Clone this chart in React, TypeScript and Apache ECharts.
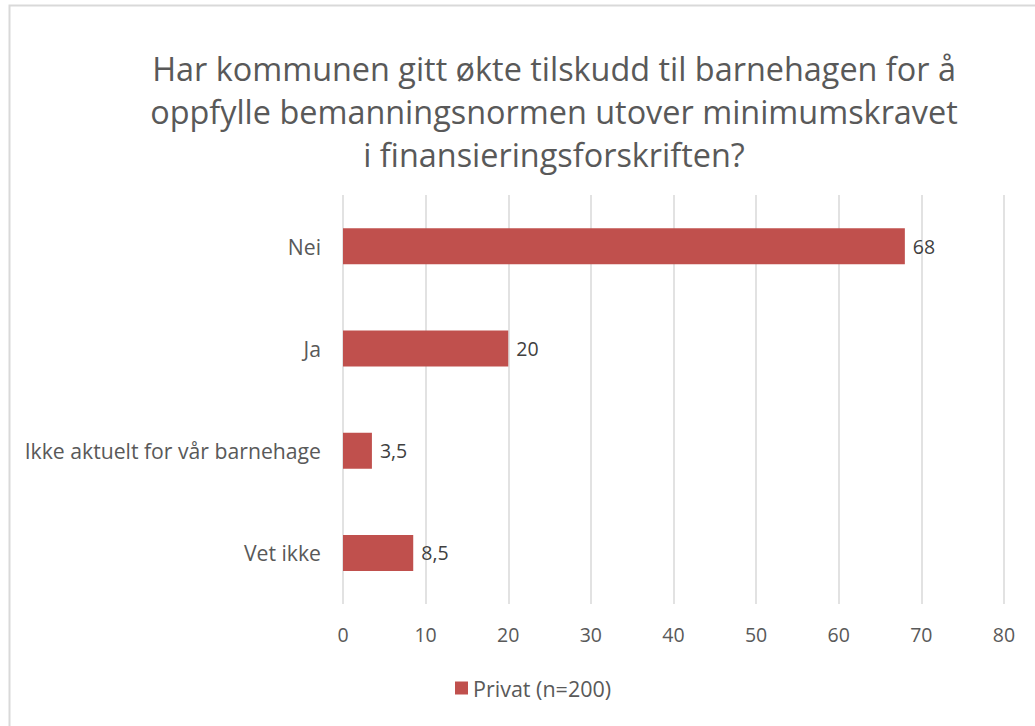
import React, { useEffect, useRef } from "react";
import * as echarts from "echarts";

const categories = ["Nei", "Ja", "Ikke aktuelt for vår barnehage", "Vet ikke"];
const values = [68, 20, 3.5, 8.5];
const seriesName = "Privat (n=200)";
const titleText =
  "Har kommunen gitt økte tilskudd til barnehagen for å\noppfylle bemanningsnormen utover minimumskravet\ni finansieringsforskriften?";

const FONT = "'Open Sans', 'Liberation Sans', sans-serif";
const TEXT = "#595959";

export default function App() {
  const ref = useRef<HTMLDivElement>(null);
  useEffect(() => {
    document.body.style.margin = "0";
    const chart = echarts.init(ref.current!, null, { renderer: "svg" });
    chart.setOption({
      animation: false,
      backgroundColor: "#ffffff",
      textStyle: { fontFamily: FONT },
      title: {
        text: titleText,
        left: 549,
        top: 41,
        textAlign: "center",
        textStyle: {
          fontFamily: FONT,
          fontSize: 32.4,
          fontWeight: "normal",
          color: TEXT,
          lineHeight: 43,
          align: "center",
        },
      },
      graphic: [
        {
          type: "polyline",
          shape: { points: [[9.5, 800], [9.5, 5.5], [1100, 5.5]] },
          style: { stroke: "#d9d9d9", lineWidth: 2, fill: "none" },
        },
      ],
      legend: {
        bottom: 22,
        left: 450,
        itemWidth: 13,
        itemHeight: 13,
        itemGap: 5,
        icon: "rect",
        textStyle: { fontFamily: FONT, fontSize: 21.5, color: TEXT },
        data: [seriesName],
      },
      grid: { left: 343, right: 31, top: 195, bottom: 122, containLabel: false },
      xAxis: {
        type: "value",
        min: 0,
        max: 80,
        interval: 10,
        axisLine: { show: false },
        axisTick: { show: false },
        splitLine: { lineStyle: { color: "#d9d9d9", width: 1.5 } },
        axisLabel: { fontFamily: FONT, fontSize: 19.5, color: TEXT, margin: 20 },
      },
      yAxis: {
        type: "category",
        inverse: true,
        data: categories,
        axisLine: { show: false },
        axisTick: { show: false },
        axisLabel: { fontFamily: FONT, fontSize: 21.2, color: TEXT, margin: 22 },
      },
      series: [
        {
          name: seriesName,
          type: "bar",
          data: values,
          barWidth: 36,
          itemStyle: { color: "#c0504d" },
          label: {
            show: true,
            position: "right",
            distance: 8,
            fontFamily: FONT,
            fontSize: 19.5,
            color: "#404040",
            formatter: (p: any) => String(p.value).replace(".", ","),
          },
        },
      ],
    });
    return () => chart.dispose();
  }, []);
  return <div ref={ref} style={{ width: 1035, height: 726 }} />;
}
